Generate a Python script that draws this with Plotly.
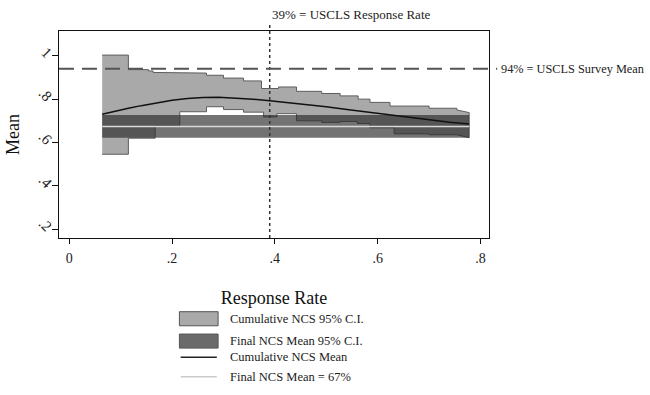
import plotly.graph_objects as go

# Cumulative NCS 95% C.I. as step functions: step start positions and values
ub_x = [0.064, 0.115, 0.154, 0.163, 0.215, 0.267, 0.300, 0.339, 0.374, 0.407,
        0.442, 0.491, 0.527, 0.562, 0.585, 0.624, 0.700, 0.754]
ub_y = [1.003, 0.936, 0.930, 0.923, 0.920, 0.910, 0.897, 0.884, 0.849, 0.856,
        0.836, 0.826, 0.815, 0.800, 0.785, 0.768, 0.758, 0.750]
ub_end = 0.738

lb_x = [0.064, 0.115, 0.167, 0.215, 0.267, 0.300, 0.339, 0.378, 0.404, 0.442,
        0.491, 0.527, 0.560, 0.585, 0.632, 0.700, 0.754]
lb_y = [0.546, 0.620, 0.676, 0.742, 0.765, 0.752, 0.740, 0.718, 0.733, 0.700,
        0.693, 0.697, 0.688, 0.668, 0.640, 0.636, 0.634]
lb_end = 0.622

x_end = 0.778

# Cumulative NCS mean by response rate
mean_x = [0.064, 0.09, 0.115, 0.14, 0.167, 0.20, 0.23, 0.26, 0.29, 0.32, 0.35,
          0.39, 0.42, 0.46, 0.50, 0.54, 0.58, 0.62, 0.66, 0.70, 0.74, 0.778]
mean_y = [0.730, 0.745, 0.758, 0.770, 0.782, 0.795, 0.803, 0.808, 0.809, 0.806,
          0.801, 0.793, 0.786, 0.775, 0.765, 0.752, 0.740, 0.728, 0.716, 0.705,
          0.694, 0.685]

# Final NCS mean and its 95% C.I.
final_mean = 0.674
final_lb = 0.622
final_ub = 0.727

# Reference values from the USCLS
uscls_rate = 0.39
uscls_mean = 0.94

x_ticks = [0, 0.2, 0.4, 0.6, 0.8]
x_labels = ["0", ".2", ".4", ".6", ".8"]
y_ticks = [0.2, 0.4, 0.6, 0.8, 1.0]
y_labels = [".2", ".4", ".6", ".8", "1"]

legend_labels = ["Cumulative NCS 95% C.I.", "Final NCS Mean 95% C.I.",
                 "Cumulative NCS Mean", "Final NCS Mean = 67%"]

SERIF = "Liberation Serif, Times New Roman, serif"


def step_path(xs, ys, x_last, y_last):
    px, py = [], []
    for i, (x0, v) in enumerate(zip(xs, ys)):
        px.append(x0)
        py.append(v)
        if i + 1 < len(xs):
            px.append(xs[i + 1])
            py.append(v)
    px.append(x_last)
    py.append(y_last)
    return px, py


ux, uy = step_path(ub_x, ub_y, x_end, ub_end)
lx, ly = step_path(lb_x, lb_y, x_end, lb_end)

fig = go.Figure()

# cumulative C.I. polygon: upper edge left to right, lower edge right to left
fig.add_trace(go.Scatter(
    x=ux + lx[::-1], y=uy + ly[::-1], mode="lines", fill="toself",
    fillcolor="#a9a9a9", line=dict(color="#5e5e5e", width=1),
    hoverinfo="skip", showlegend=False))

# final mean C.I. band
fig.add_trace(go.Scatter(
    x=[lb_x[0], x_end, x_end, lb_x[0], lb_x[0]],
    y=[final_ub, final_ub, final_lb, final_lb, final_ub],
    mode="lines", fill="toself", fillcolor="rgba(40,40,40,0.65)",
    line=dict(width=0), hoverinfo="skip", showlegend=False))

# final mean line
fig.add_trace(go.Scatter(
    x=[lb_x[0], x_end], y=[final_mean, final_mean], mode="lines",
    line=dict(color="#d9d9d9", width=1.6), hoverinfo="skip", showlegend=False))

# cumulative mean line
fig.add_trace(go.Scatter(
    x=mean_x, y=mean_y, mode="lines", line=dict(color="#111111", width=1.5),
    hoverinfo="skip", showlegend=False))

shapes = [
    # USCLS response rate
    dict(type="line", xref="x", yref="paper", x0=uscls_rate, x1=uscls_rate,
         y0=0, y1=1.04, line=dict(color="#333333", width=1.5, dash="dot")),
    # USCLS survey mean
    dict(type="line", xref="paper", yref="y", x0=0, x1=1.019,
         y0=uscls_mean, y1=uscls_mean,
         line=dict(color="#555555", width=2, dash="15px,8px")),
]

annotations = [
    dict(text="39% = USCLS Response Rate", xref="x", yref="paper",
         x=uscls_rate, y=1.082, xanchor="left", yanchor="middle",
         showarrow=False, font=dict(family=SERIF, size=13, color="#222")),
    dict(text="94% = USCLS Survey Mean", xref="paper", yref="y",
         x=1.024, y=uscls_mean, xanchor="left", yanchor="middle",
         showarrow=False, font=dict(family=SERIF, size=12.3, color="#222")),
]

# legend block below the plot (paper coordinates)
key_x0, key_x1, text_x = 0.280, 0.370, 0.394
rows = [-0.390, -0.498, -0.576, -0.670]
shapes.append(dict(type="rect", xref="paper", yref="paper", x0=key_x0, x1=key_x1,
                   y0=rows[0] - 0.034, y1=rows[0] + 0.034, fillcolor="#a9a9a9",
                   line=dict(color="#555555", width=1)))
shapes.append(dict(type="rect", xref="paper", yref="paper", x0=key_x0, x1=key_x1,
                   y0=rows[1] - 0.034, y1=rows[1] + 0.034, fillcolor="#6a6a6a",
                   line=dict(color="#555555", width=1)))
shapes.append(dict(type="line", xref="paper", yref="paper", x0=key_x0 + 0.003,
                   x1=key_x1 - 0.003, y0=rows[2], y1=rows[2],
                   line=dict(color="#222222", width=1.5)))
shapes.append(dict(type="line", xref="paper", yref="paper", x0=key_x0 + 0.003,
                   x1=key_x1 - 0.003, y0=rows[3], y1=rows[3],
                   line=dict(color="#cccccc", width=1.6)))
for lab, ry in zip(legend_labels, rows):
    annotations.append(dict(text=lab, xref="paper", yref="paper", x=text_x, y=ry,
                            xanchor="left", yanchor="middle", showarrow=False,
                            font=dict(family=SERIF, size=12.5, color="#222")))

fig.update_layout(
    width=650, height=395,
    margin=dict(l=59, r=161, t=31, b=157),
    paper_bgcolor="white", plot_bgcolor="white",
    shapes=shapes, annotations=annotations, showlegend=False,
    xaxis=dict(range=[-0.02, 0.8166], tickvals=x_ticks, ticktext=x_labels,
               automargin=False,
               showgrid=False, zeroline=False, showline=True, mirror=True,
               linecolor="#111", linewidth=1, ticks="outside", ticklen=5,
               tickcolor="#111", ticklabelstandoff=2,
               tickfont=dict(family=SERIF, size=14, color="#222"),
               title=dict(text="Response Rate", standoff=26,
                          font=dict(family=SERIF, size=18, color="#111"))),
    yaxis=dict(range=[0.16, 1.114], tickvals=y_ticks, ticktext=y_labels,
               automargin=False,
               showgrid=False, zeroline=False, showline=True, mirror=True,
               linecolor="#111", linewidth=1, ticks="outside", ticklen=6,
               tickcolor="#111", tickangle=45, ticklabelstandoff=-2,
               tickfont=dict(family=SERIF, size=15, color="#222"),
               title=dict(text="Mean", standoff=11,
                          font=dict(family=SERIF, size=18, color="#111"))),
)

fig.write_html("out.html")
